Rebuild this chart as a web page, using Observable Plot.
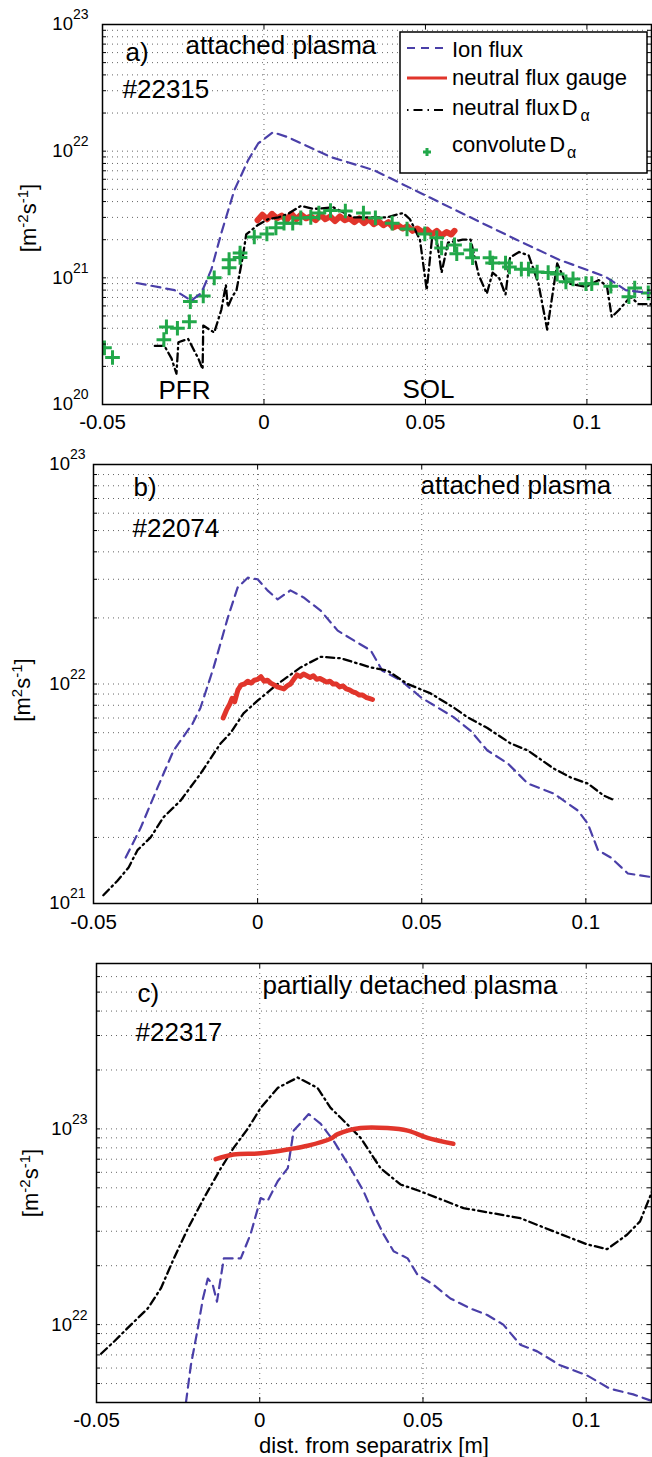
<!DOCTYPE html>
<html><head><meta charset="utf-8">
<script src="https://cdn.jsdelivr.net/npm/d3@7"></script>
<script src="https://cdn.jsdelivr.net/npm/@observablehq/plot@0.6"></script>
<style>
html,body{margin:0;padding:0;background:#fff;}
#root{position:relative;width:652px;height:1457px;overflow:hidden;font-family:"Liberation Sans",Arial,sans-serif;color:#000;}
.ylab{position:absolute;transform:translate(-50%,-50%) rotate(-90deg);font-size:22px;white-space:nowrap;line-height:1;}
.ylab sup{font-size:15px;line-height:0;vertical-align:8px;}
</style></head>
<body><div id="root"></div>
<script>
// ---------- shared axes ----------
const xDomain = [-0.05, 0.12];
const xTickVals = [-0.05, 0, 0.05, 0.1];
const xGridVals = [0, 0.05, 0.1];

// ---------- panel a) #22315 attached plasma ----------
const aDomainY = [1e20, 1e23];
const aDecades = [1e20, 1e21, 1e22, 1e23];
const aIonX = [-0.0394,-0.0277,-0.0225,-0.0194,-0.0163,-0.0132,-0.0092,-0.0049,-0.0018,0.0028,0.0074,0.0206,0.0339,0.0483,0.0628,0.0782,0.0914,0.1058,0.112,0.119];
const aIonY = [9.1e20,8.0e20,6.6e20,7.6e20,1.16e21,2.26e21,4.9e21,8.5e21,1.15e22,1.41e22,1.29e22,9.0e21,7.1e21,4.7e21,3.1e21,2.0e21,1.39e21,1.02e21,8.0e20,7.6e20];
const aGaugeX = [-0.0020,-0.0005,0.0010,0.0025,0.0040,0.0055,0.0070,0.0085,0.0100,0.0115,0.0130,0.0145,0.0160,0.0175,0.0190,0.0205,0.0220,0.0235,0.0250,0.0265,0.0280,0.0295,0.0310,0.0325,0.0340,0.0355,0.0370,0.0385,0.0400,0.0415,0.0430,0.0445,0.0460,0.0475,0.0490,0.0505,0.0520,0.0535,0.0550,0.0565,0.0580,0.0590];
const aGaugeY = [2.85e21,3.15e21,2.9e21,3.2e21,2.95e21,3.1e21,2.85e21,3.2e21,2.9e21,3.15e21,2.95e21,3.05e21,2.85e21,3.15e21,2.9e21,3.05e21,2.8e21,3.05e21,2.85e21,2.95e21,2.75e21,2.95e21,2.7e21,2.9e21,2.65e21,2.8e21,2.6e21,2.75e21,2.5e21,2.6e21,2.45e21,2.55e21,2.35e21,2.45e21,2.3e21,2.4e21,2.2e21,2.35e21,2.15e21,2.3e21,2.2e21,2.35e21];
const aDaX = [-0.0338,-0.0308,-0.0286,-0.0271,-0.0265,-0.0235,-0.0203,-0.019,-0.0188,-0.0154,-0.0132,-0.0118,-0.0112,-0.0098,-0.0085,-0.0065,-0.0055,-0.002,0.0012,0.0045,0.0075,0.0114,0.0154,0.0215,0.0277,0.033,0.038,0.0431,0.0452,0.0483,0.0504,0.052,0.0535,0.055,0.057,0.0615,0.064,0.0665,0.069,0.0708,0.0728,0.0748,0.0762,0.079,0.082,0.085,0.0877,0.0908,0.0935,0.0997,0.1037,0.1062,0.1077,0.11,0.1135,0.116,0.12];
const aDaY = [2.9e20,2.9e20,2.3e20,1.75e20,3.1e20,3.3e20,2.3e20,1.9e20,4.2e20,3.7e20,5.6e20,8.8e20,5.9e20,7.1e20,8.0e20,1.5e21,2.2e21,2.6e21,2.9e21,3.0e21,3.2e21,3.7e21,3.5e21,3.6e21,3.0e21,3.0e21,3.0e21,3.25e21,2.9e21,2.0e21,8.0e20,2.0e21,2.0e21,1.1e21,1.9e21,2.0e21,2.0e21,1.05e21,7.5e20,1.1e21,1.0e21,7.4e20,1.45e21,1.6e21,1.5e21,9.0e20,3.9e20,1.3e21,9.1e20,8.5e20,9.6e20,8.6e20,4.9e20,5.6e20,7.1e20,6.2e20,6.2e20];
const aConvX = [-0.0494,-0.0469,-0.031,-0.0302,-0.0268,-0.0231,-0.0228,-0.0188,-0.0154,-0.0108,-0.0108,-0.0074,-0.0074,-0.003,0.0009,0.0037,0.0062,0.0089,0.0114,0.0145,0.017,0.0206,0.0252,0.0308,0.0345,0.0397,0.0443,0.0498,0.0535,0.055,0.059,0.0597,0.064,0.0646,0.070,0.0708,0.0748,0.076,0.0797,0.0819,0.0846,0.088,0.0908,0.0935,0.0957,0.0997,0.1015,0.1074,0.113,0.1148,0.119];
const aConvY = [2.8e20,2.35e20,3.25e20,4.1e20,4.0e20,4.5e20,6.5e20,7.2e20,1.0e21,1.39e21,1.2e21,1.57e21,1.45e21,2.1e21,2.22e21,2.48e21,2.7e21,2.7e21,2.97e21,3.0e21,3.25e21,3.4e21,3.37e21,3.25e21,2.97e21,2.7e21,2.43e21,2.22e21,2.07e21,1.72e21,1.82e21,1.55e21,1.66e21,1.44e21,1.44e21,1.31e21,1.31e21,1.22e21,1.17e21,1.17e21,1.11e21,1.1e21,1.07e21,9.3e20,9.8e20,9.0e20,9.0e20,8.6e20,7.1e20,8.3e20,7.6e20];

// ---------- panel b) #22074 attached plasma ----------
const bDomainY = [1e21, 1e23];
const bDecades = [1e21, 1e22, 1e23];
const bIonX = [-0.0402,-0.0357,-0.0305,-0.0256,-0.0198,-0.0174,-0.0134,-0.0091,-0.0061,-0.003,0,0.003,0.0061,0.010,0.014,0.0192,0.0244,0.0293,0.0345,0.038,0.0436,0.0497,0.0598,0.065,0.070,0.0762,0.0823,0.0902,0.0976,0.1006,0.1037,0.1076,0.1128,0.1198];
const bIonY = [1.62e21,2.2e21,3.37e21,4.98e21,6.6e21,7.8e21,1.19e22,2.0e22,2.75e22,3.05e22,3.0e22,2.67e22,2.43e22,2.67e22,2.48e22,2.16e22,1.75e22,1.58e22,1.42e22,1.15e22,1.04e22,8.7e21,7.05e21,6.1e21,4.98e21,4.35e21,3.52e21,3.17e21,2.65e21,2.31e21,1.75e21,1.62e21,1.37e21,1.32e21];
const bGaugeX = [-0.0105,-0.0095,-0.0085,-0.0078,-0.007,-0.006,-0.005,-0.004,-0.003,-0.002,-0.001,0,0.001,0.002,0.003,0.004,0.005,0.006,0.007,0.008,0.009,0.010,0.011,0.012,0.013,0.014,0.015,0.016,0.017,0.018,0.019,0.020,0.021,0.022,0.023,0.024,0.025,0.026,0.027,0.028,0.029,0.030,0.031,0.032,0.033,0.034,0.035];
const bGaugeY = [7.0e21,7.6e21,8.1e21,8.6e21,8.3e21,9.4e21,9.9e21,1.0e22,1.03e22,1.01e22,1.04e22,1.05e22,1.08e22,1.03e22,1.04e22,1.01e22,9.9e21,9.7e21,9.6e21,9.5e21,9.8e21,1.0e22,1.05e22,1.1e22,1.08e22,1.11e22,1.09e22,1.07e22,1.09e22,1.05e22,1.06e22,1.04e22,1.02e22,1.03e22,1.0e22,1.0e22,9.7e21,9.8e21,9.5e21,9.4e21,9.2e21,9.1e21,8.9e21,8.9e21,8.7e21,8.6e21,8.5e21];
const bDaX = [-0.047,-0.0427,-0.0393,-0.0366,-0.0326,-0.0287,-0.0235,-0.0174,-0.0113,-0.0082,-0.0043,0,0.0061,0.0131,0.0192,0.0253,0.0345,0.0396,0.0457,0.0527,0.0598,0.064,0.070,0.0771,0.0823,0.0902,0.0954,0.1006,0.1055,0.109];
const bDaY = [1.09e21,1.27e21,1.46e21,1.75e21,2.0e21,2.47e21,2.94e21,3.9e21,5.36e21,6.0e21,7.35e21,8.4e21,1.0e22,1.19e22,1.33e22,1.31e22,1.19e22,1.15e22,1.0e22,9.06e21,7.8e21,7.05e21,6.3e21,5.36e21,4.98e21,4.12e21,3.75e21,3.52e21,3.1e21,2.94e21];

// ---------- panel c) #22317 partially detached plasma ----------
const cDomainY = [4e21, 7e23];
const cDecades = [1e22, 1e23];
const cIonX = [-0.0226,-0.0211,-0.019,-0.0174,-0.0159,-0.0144,-0.0131,-0.011,-0.0058,-0.0028,0.0003,0.0024,0.0055,0.0086,0.0104,0.015,0.0187,0.0226,0.0278,0.0318,0.0349,0.0379,0.041,0.0453,0.0483,0.0532,0.0584,0.0645,0.0697,0.0746,0.0798,0.085,0.092,0.1003,0.1073,0.1144,0.1196];
const cIonY = [4.0e21,6.2e21,9.5e21,1.36e22,1.72e22,1.6e22,1.31e22,2.18e22,2.18e22,2.9e22,4.43e22,4.28e22,5.4e22,6.3e22,9.8e22,1.19e23,1.06e23,8.7e22,6.3e22,4.8e22,3.66e22,2.9e22,2.37e22,2.18e22,1.8e22,1.6e22,1.36e22,1.21e22,1.12e22,1.0e22,7.9e21,7.3e21,6.2e21,5.5e21,4.7e21,4.4e21,4.1e21];
const cGaugeX = [-0.0135,-0.008,0.0003,0.0095,0.0147,0.0217,0.0239,0.0309,0.0391,0.0453,0.0514,0.0593];
const cGaugeY = [7.0e22,7.4e22,7.5e22,7.9e22,8.2e22,8.9e22,9.4e22,1.01e23,1.01e23,9.8e22,9.0e22,8.4e22];
const cDaX = [-0.0486,-0.0446,-0.0394,-0.0343,-0.0303,-0.0263,-0.022,-0.0171,-0.0119,-0.008,-0.0037,0.0003,0.0055,0.0116,0.0177,0.0217,0.0248,0.0309,0.037,0.0431,0.0492,0.0624,0.0798,0.0899,0.1003,0.1064,0.1125,0.1165,0.1202];
const cDaY = [7.1e21,8.2e21,1.0e22,1.21e22,1.53e22,2.18e22,3.1e22,4.43e22,6.3e22,8.0e22,1.0e23,1.28e23,1.62e23,1.83e23,1.62e23,1.28e23,1.14e23,9.0e22,6.3e22,5.2e22,4.8e22,3.94e22,3.5e22,3.0e22,2.57e22,2.43e22,2.88e22,3.37e22,4.8e22];

// ---------- styles ----------
const BLUE = "#4a3fa8", RED = "#e1352b", GREEN = "#22a84a", BLACK = "#000";
const FONT = "'Liberation Sans', Arial, Helvetica, sans-serif";
const DASH = "9,6", DASHDOT = "8,4,1.5,4";

function logGrid(lo, hi) {
  const out = [];
  for (let e = Math.floor(Math.log10(lo)); e <= Math.ceil(Math.log10(hi)); e++)
    for (let m = 1; m < 10; m++) { const v = m * Math.pow(10, e); if (v >= lo * 0.999 && v <= hi * 1.001) out.push(v); }
  return out;
}

function ionLine(X, Y) { return Plot.line(X, {x: X, y: Y, stroke: BLUE, strokeWidth: 2.2, strokeDasharray: DASH, clip: true}); }
function daLine(X, Y) { return Plot.line(X, {x: X, y: Y, stroke: BLACK, strokeWidth: 2.3, strokeDasharray: DASHDOT, clip: true}); }
function gaugeLine(X, Y, w, curve) { return Plot.line(X, {x: X, y: Y, stroke: RED, strokeWidth: w, curve: curve || "linear", strokeLinejoin: "round", strokeLinecap: "round", clip: true}); }
function label(t, dx, dy, size) { return Plot.text([t], {text: d => d, frameAnchor: "top-left", dx, dy, lineAnchor: "bottom", textAnchor: "start", fontSize: size || 26, fill: "#000"}); }

function makePanel(cfg) {
  const grid = logGrid(cfg.yDomain[0], cfg.yDomain[1]);
  const gs = {stroke: "#666", strokeOpacity: 1, strokeWidth: 1, strokeDasharray: "1,4"};
  const svg = Plot.plot({
    width: 652, height: cfg.height,
    marginTop: cfg.mt, marginBottom: cfg.mb, marginLeft: cfg.ml, marginRight: 1,
    style: {fontFamily: FONT, fontSize: "18px", color: "#000", background: "transparent", overflow: "visible"},
    x: {domain: xDomain, label: null},
    y: {type: "log", domain: cfg.yDomain, label: null},
    marks: [
      Plot.gridX(xGridVals, gs),
      Plot.gridY(grid, gs),
      ...cfg.marks,
      Plot.ruleY(grid, {x1: xDomain[0], x2: xDomain[0], insetRight: -4, stroke: "#000"}),
      Plot.ruleY(grid, {x1: xDomain[1], x2: xDomain[1], insetLeft: -4, stroke: "#000"}),
      Plot.ruleX(xGridVals, {y1: cfg.yDomain[0], y2: cfg.yDomain[0], insetTop: -5, stroke: "#000"}),
      Plot.ruleX(xGridVals, {y1: cfg.yDomain[1], y2: cfg.yDomain[1], insetBottom: -5, stroke: "#000"}),
      Plot.frame({stroke: "#000", strokeWidth: 1.5}),
      Plot.axisX(xTickVals, {tickSize: 0, tickPadding: cfg.xpad, fontSize: 20.5, tickFormat: d => String(d)}),
      Plot.axisY(cfg.decades, {tickSize: 0, tickPadding: cfg.ypad, fontSize: 18.5, tickFormat: d => "10^" + Math.round(Math.log10(d))}),
      ...cfg.texts
    ]
  });
  d3.select(svg).selectAll('g[aria-label="y-axis tick label"] text').each(function() {
    const parts = this.textContent.split("^");
    const s = d3.select(this);
    s.text(null);
    s.append("tspan").text(parts[0]);
    s.append("tspan").attr("dy", -11).attr("font-size", 14).text(parts[1]);
  });
  svg.style.position = "absolute";
  svg.style.left = "0px";
  svg.style.top = cfg.top + "px";
  return svg;
}

const root = document.getElementById("root");

root.appendChild(makePanel({
  top: 0, height: 444, mt: 24, mb: 40, ml: 102, xpad: 10, ypad: 14,
  yDomain: aDomainY, decades: aDecades,
  marks: [
    gaugeLine(aGaugeX, aGaugeY, 6),
    daLine(aDaX, aDaY),
    Plot.dot(aConvX, {x: aConvX, y: aConvY, symbol: "plus", stroke: GREEN, strokeWidth: 3, r: 4.8, clip: true}),
    ionLine(aIonX, aIonY)
  ],
  texts: [
    label("a)", 23, 36), label("#22315", 20, 73), label("attached plasma", 83, 29),
    label("PFR", 56, 374), label("SOL", 300, 373)
  ]
}));

root.appendChild(makePanel({
  top: 440, height: 503, mt: 24, mb: 40, ml: 93, xpad: 11, ypad: 8,
  yDomain: bDomainY, decades: bDecades,
  marks: [
    ionLine(bIonX, bIonY),
    daLine(bDaX, bDaY),
    gaugeLine(bGaugeX, bGaugeY, 5)
  ],
  texts: [label("b)", 40, 31), label("#22074", 39, 72), label("attached plasma", 327, 29)]
}));

const cSvg = makePanel({
  top: 940, height: 517, mt: 23, mb: 55, ml: 96, xpad: 10, ypad: 9,
  yDomain: cDomainY, decades: cDecades,
  marks: [
    ionLine(cIonX, cIonY),
    daLine(cDaX, cDaY),
    gaugeLine(cGaugeX, cGaugeY, 4.5, "catmull-rom")
  ],
  texts: [
    label("c)", 41, 38), label("#22317", 39, 77), label("partially detached plasma", 166, 30),
    Plot.text(["dist. from separatrix [m]"], {text: d => d, frameAnchor: "bottom", dy: 50, lineAnchor: "bottom", fontSize: 22, fill: "#000"})
  ]
});
root.appendChild(cSvg);

// ---------- y-axis labels ----------
function ylab(html, cx, cy) {
  const d = document.createElement("div");
  d.className = "ylab"; d.innerHTML = html;
  d.style.left = cx + "px"; d.style.top = cy + "px";
  root.appendChild(d);
}
ylab("[m<sup>-2</sup>s<sup>-1</sup>]", 29, 218);
ylab("[m<sup>2</sup>s<sup>-1</sup>]", 23, 690);
ylab("[m<sup>-2</sup>s<sup>-1</sup>]", 31, 1183);

// ---------- legend of panel a ----------
const leg = d3.create("svg").attr("width", 652).attr("height", 190)
  .style("position", "absolute").style("left", "0px").style("top", "0px")
  .attr("font-family", FONT);
leg.append("rect").attr("x", 400).attr("y", 32).attr("width", 247).attr("height", 141)
  .attr("fill", "#fff").attr("stroke", "#000").attr("stroke-width", 1.5);
leg.append("line").attr("x1", 407).attr("x2", 447).attr("y1", 48).attr("y2", 48)
  .attr("stroke", BLUE).attr("stroke-width", 2).attr("stroke-dasharray", "8,6");
leg.append("line").attr("x1", 407).attr("x2", 447).attr("y1", 78).attr("y2", 78)
  .attr("stroke", RED).attr("stroke-width", 3);
leg.append("line").attr("x1", 407).attr("x2", 447).attr("y1", 110).attr("y2", 110)
  .attr("stroke", BLACK).attr("stroke-width", 2).attr("stroke-dasharray", "1.5,5,9,5");
leg.append("path").attr("d", "M423,152h8M427,148v8").attr("stroke", GREEN).attr("stroke-width", 3);
const lt = (y) => leg.append("text").attr("x", 452).attr("y", y).attr("font-size", 22).attr("fill", "#000");
lt(57).text("Ion flux");
lt(85).text("neutral flux gauge");
const t3 = lt(115); t3.append("tspan").text("neutral flux"); t3.append("tspan").attr("dx", 2).text("D");
t3.append("tspan").attr("dx", 3).attr("dy", 6).attr("font-size", 16).text("α");
const t4 = lt(152); t4.append("tspan").text("convolute"); t4.append("tspan").attr("dx", 3).text("D");
t4.append("tspan").attr("dx", 2).attr("dy", 6).attr("font-size", 16).text("α");
root.appendChild(leg.node());
</script>
</body></html>
